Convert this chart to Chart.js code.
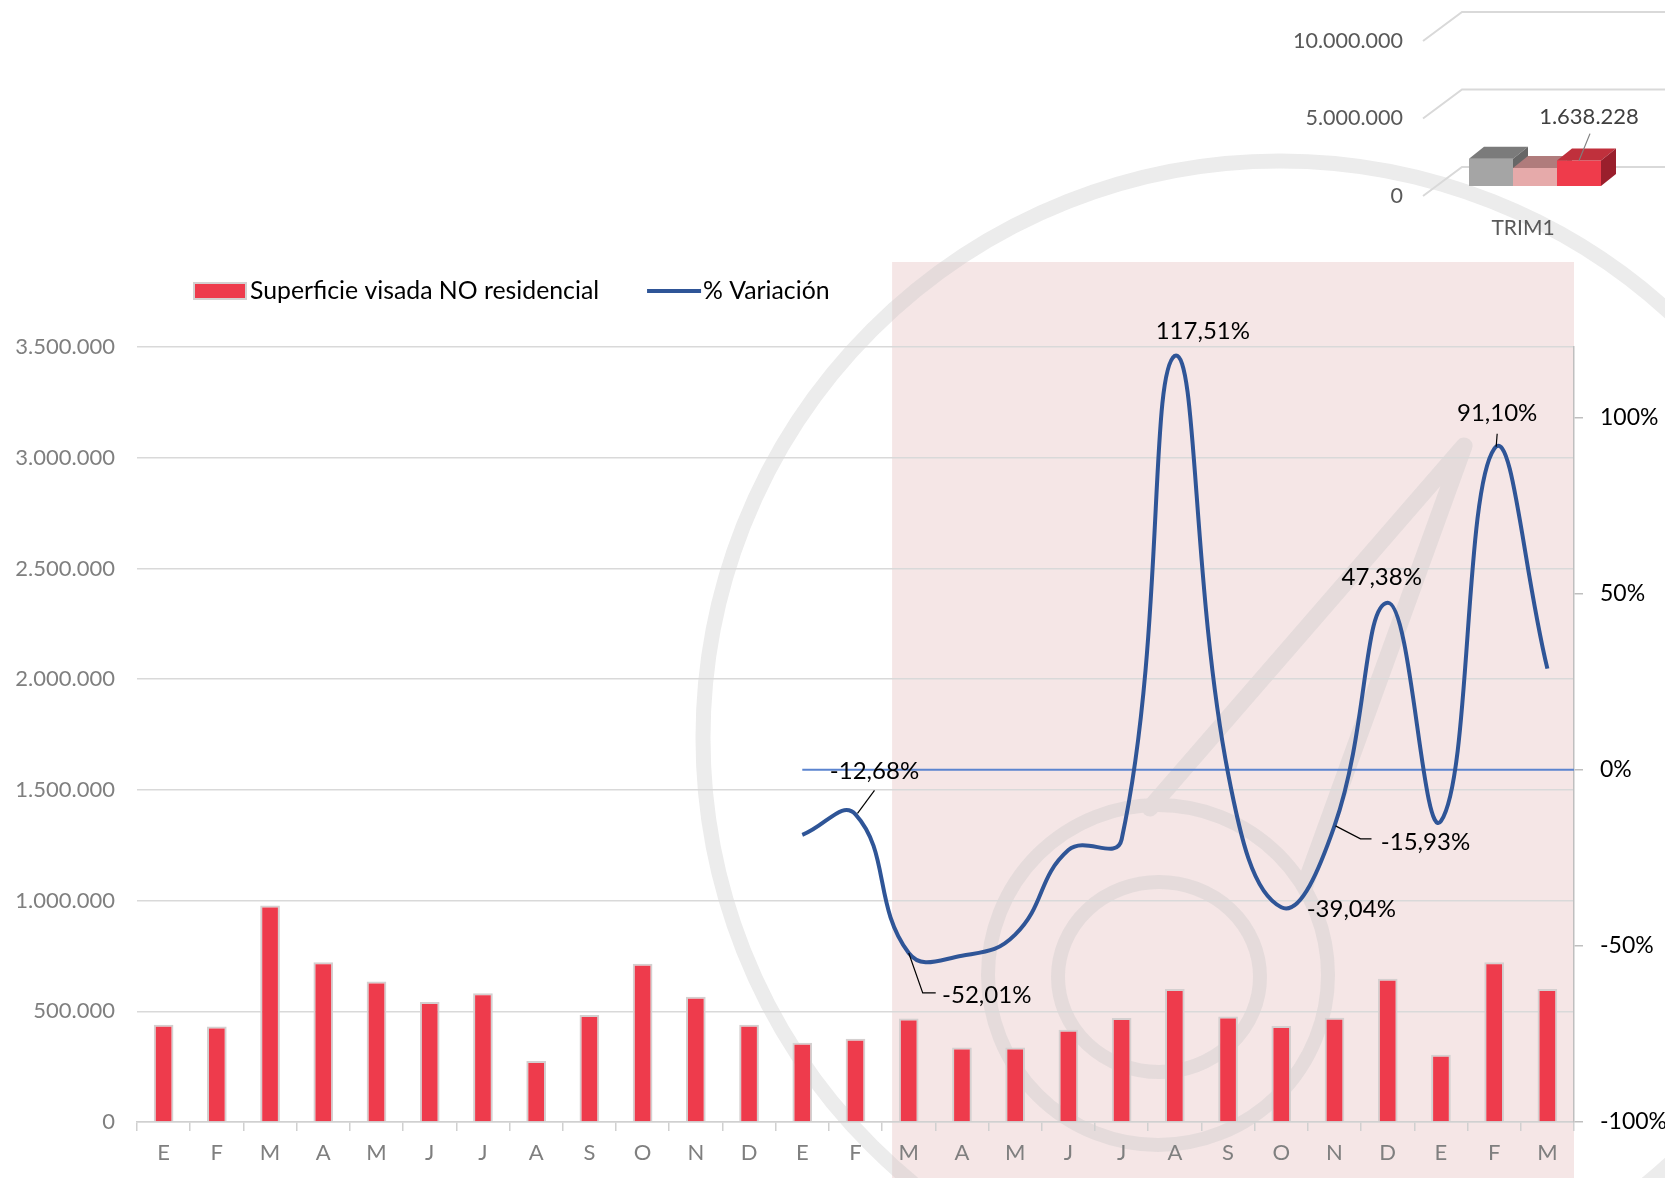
<!DOCTYPE html>
<html lang="es">
<head>
<meta charset="utf-8">
<title>Superficie visada NO residencial</title>
<script src="https://cdn.jsdelivr.net/npm/chart.js@4.4.1/dist/chart.umd.min.js"></script>
<style>
  html, body { margin: 0; padding: 0; background: #fff; }
  #wrap { position: relative; width: 1665px; height: 1178px; overflow: hidden; }
  #main { position: absolute; left: 0; top: 0; }
  #trim { position: absolute; left: 1250px; top: 0; }
</style>
</head>
<body>
<div id="wrap">
  <canvas id="main" width="1665" height="1178"></canvas>
  <canvas id="trim" width="415" height="240"></canvas>
</div>
<script>
// months: one full year, the next one and Jan-Mar of the third
const months = ['E', 'F', 'M', 'A', 'M', 'J', 'J', 'A', 'S', 'O', 'N', 'D',
                'E', 'F', 'M', 'A', 'M', 'J', 'J', 'A', 'S', 'O', 'N', 'D',
                'E', 'F', 'M'];

// m2 visados
const superficie = [439000, 431000, 978000, 721000, 634000, 542000, 581000, 276000, 483000, 715000, 566000, 439000,
                    358000, 376000, 467000, 337000, 337000, 417000, 470000, 601000, 477000, 434000, 471000, 647000,
                    304000, 721000, 601000];

// % variation against the same month a year before (none for the first year)
const variacion = [null, null, null, null, null, null, null, null, null, null, null, null,
                   -18.5, -12.68, -52.01, -52.8, -46.8, -22.8, -19.8, 117.51, -1.0, -39.04, -15.93, 47.38,
                   -14.6, 91.10, 28.7];

// the quarter chart that is cut off in the top right corner
const trimLabels = ['TRIM1'];
const trimValues = [1760000, 1160000, 1638228];

const FONT = 'Lato, "Open Sans", sans-serif';
const trimFront = ['#a5a5a5', '#e6aaaa', '#ef3b4b'];
const trimTop = ['#7b7b7b', '#b07c7c', '#c0303c'];
const trimSide = ['#676767', '#9a6a6a', '#9a1f2c'];

// where the data labels sit relative to their point
const labelSpots = {
    13: { dx: 19, dy: -43, leader: [[2, -1], [19, -24]] },
    14: { dx: 78, dy: 42, leader: [[0, 0], [14, 40], [27, 40]] },
    19: { dx: 28, dy: -25 },
    21: { dx: 70, dy: 2 },
    22: { dx: 91, dy: 16, leader: [[1, 0], [26, 13], [37, 13]] },
    23: { dx: -6, dy: -26 },
    25: { dx: 3, dy: -36, leader: [[2, -2], [3, -15]] }
};

function fmtThousands(v) {
    return Math.round(v).toString().replace(/\B(?=(\d{3})+(?!\d))/g, '.');
}

function fmtPct(v) {
    return v.toFixed(2).replace('.', ',') + '%';
}

// faint logo behind the plot, drawn once on its own canvas so overlaps don't darken
function drawWatermark(ctx) {
    const off = document.createElement('canvas');
    off.width = ctx.canvas.width;
    off.height = ctx.canvas.height;
    const o = off.getContext('2d');
    o.strokeStyle = 'rgb(200,200,200)';
    o.lineCap = 'round';
    o.lineJoin = 'round';
    o.lineWidth = 15;
    o.beginPath(); o.arc(1280, 738, 577, 0, Math.PI * 2); o.stroke();
    o.lineWidth = 14;
    o.beginPath(); o.arc(1158, 975, 170, 0, Math.PI * 2); o.stroke();
    o.beginPath(); o.ellipse(1159, 977, 101, 95, 0, 0, Math.PI * 2); o.stroke();
    o.lineWidth = 17;
    o.beginPath(); o.moveTo(1150, 808); o.lineTo(1464, 446); o.lineTo(1305, 885); o.stroke();
    ctx.save();
    ctx.globalAlpha = 0.35;
    ctx.drawImage(off, 0, 0);
    ctx.restore();
}

// pink panel over the last 13 months + watermark
const backdrop = {
    id: 'backdrop',
    beforeDraw(chart) {
        const { ctx, chartArea, scales: { x } } = chart;
        const left = (x.getPixelForValue(13) + x.getPixelForValue(14)) / 2 + 10;
        const top = chartArea.top - 85;
        ctx.save();
        ctx.fillStyle = '#f5e6e6';
        ctx.fillRect(left, top, chartArea.right - left, chart.height - top);
        ctx.restore();
        drawWatermark(ctx);
    }
};

// thin 0% reference line from the first variation month to the right edge
const zeroLine = {
    id: 'zeroLine',
    beforeDatasetsDraw(chart) {
        const { ctx, chartArea, scales: { x, y1 } } = chart;
        const py = y1.getPixelForValue(0);
        ctx.save();
        ctx.strokeStyle = '#5b84cf';
        ctx.lineWidth = 2;
        ctx.beginPath();
        ctx.moveTo(x.getPixelForValue(12), py);
        ctx.lineTo(chartArea.right, py);
        ctx.stroke();
        ctx.restore();
    }
};

const pointLabels = {
    id: 'pointLabels',
    afterDatasetsDraw(chart) {
        const { ctx } = chart;
        const meta = chart.getDatasetMeta(0);
        ctx.save();
        ctx.font = `24px ${FONT}`;
        ctx.fillStyle = '#000';
        ctx.strokeStyle = '#000';
        ctx.lineWidth = 1.2;
        ctx.textAlign = 'center';
        ctx.textBaseline = 'middle';
        Object.keys(labelSpots).forEach(k => {
            const i = Number(k);
            const pt = meta.data[i];
            const spot = labelSpots[k];
            if (spot.leader) {
                ctx.beginPath();
                spot.leader.forEach(([lx, ly], j) => {
                    if (j === 0) ctx.moveTo(pt.x + lx, pt.y + ly);
                    else ctx.lineTo(pt.x + lx, pt.y + ly);
                });
                ctx.stroke();
            }
            ctx.fillText(fmtPct(variacion[i]), pt.x + spot.dx, pt.y + spot.dy);
        });
        ctx.restore();
    }
};

// legend row drawn by hand so it can sit left of centre like the original
const legendRow = {
    id: 'legendRow',
    afterDraw(chart) {
        const { ctx, chartArea } = chart;
        const line = chart.data.datasets[0];
        const bar = chart.data.datasets[1];
        const y = chartArea.top - 56;
        let x = 194;
        ctx.save();
        ctx.font = `24.8px ${FONT}`;
        ctx.textBaseline = 'middle';
        ctx.textAlign = 'left';
        ctx.fillStyle = bar.backgroundColor;
        ctx.fillRect(x, y - 8, 52, 16);
        ctx.strokeStyle = bar.borderColor;
        ctx.lineWidth = 2;
        ctx.strokeRect(x, y - 8, 52, 16);
        ctx.fillStyle = '#000';
        ctx.fillText(bar.label, x + 56, y);
        x += 56 + ctx.measureText(bar.label).width + 48;
        ctx.strokeStyle = line.borderColor;
        ctx.lineWidth = 4;
        ctx.beginPath();
        ctx.moveTo(x, y);
        ctx.lineTo(x + 54, y);
        ctx.stroke();
        ctx.fillText(line.label, x + 56, y);
        ctx.restore();
    }
};

new Chart(document.getElementById('main'), {
    data: {
        labels: months,
        datasets: [
            {
                type: 'line',
                label: '% Variación',
                data: variacion,
                yAxisID: 'y1',
                borderColor: '#2f5597',
                borderWidth: 4,
                pointRadius: 0,
                tension: 0.45,
                fill: false,
                order: 0
            },
            {
                type: 'bar',
                label: 'Superficie visada NO residencial',
                data: superficie,
                yAxisID: 'y',
                backgroundColor: '#ee3b4c',
                borderColor: '#d4d0d0',
                borderWidth: 2,
                barPercentage: 0.37,
                categoryPercentage: 1,
                order: 1
            }
        ]
    },
    options: {
        responsive: false,
        animation: false,
        layout: { padding: { top: 347, left: 0, right: 0, bottom: 0 } },
        plugins: {
            legend: { display: false },
            tooltip: { enabled: false }
        },
        scales: {
            x: {
                offset: true,
                grid: { offset: true, drawOnChartArea: false, drawTicks: true, tickLength: 9, color: '#d0d0d0', lineWidth: 1.5 },
                border: { display: true, color: '#d0d0d0', width: 1.5 },
                ticks: { color: '#7f7f7f', font: { family: FONT, size: 22 }, padding: 9, maxRotation: 0, autoSkip: false },
                afterFit: s => { s.height = 56; }
            },
            y: {
                position: 'left',
                min: 0,
                max: 3500000,
                ticks: { stepSize: 500000, callback: v => fmtThousands(v), color: '#7f7f7f', font: { family: FONT, size: 22 }, padding: 22 },
                grid: { color: '#d9d9d9', lineWidth: 1.5, drawTicks: false },
                border: { display: false },
                afterFit: s => { s.width = 137; }
            },
            y1: {
                position: 'right',
                min: -100,
                max: 120,
                afterBuildTicks: s => { s.ticks = s.ticks.filter(t => t.value % 50 === 0); },
                ticks: { stepSize: 50, callback: v => v + '%', color: '#000', font: { family: FONT, size: 23 }, padding: 17 },
                grid: { drawOnChartArea: false, drawTicks: true, tickLength: 9, color: '#bfbfbf', lineWidth: 1.5 },
                border: { display: true, color: '#bfbfbf', width: 1.5 },
                afterFit: s => { s.width = 91; }
            }
        }
    },
    plugins: [backdrop, zeroLine, pointLabels, legendRow]
});

// --- small 3D quarter chart, top right ---
const DX = 15, DY = -12;     // bar depth
const SHIFT = [12, -10];     // bars stand a bit behind the front edge

const walls3d = {
    id: 'walls3d',
    beforeDatasetsDraw(chart) {
        const { ctx, chartArea, scales: { y } } = chart;
        ctx.save();
        ctx.strokeStyle = '#d9d9d9';
        ctx.lineWidth = 2;
        y.ticks.forEach(t => {
            const py = y.getPixelForValue(t.value);
            ctx.beginPath();
            ctx.moveTo(chartArea.left, py);
            ctx.lineTo(chartArea.left + 39, py - 29);
            ctx.lineTo(chart.width, py - 29);
            ctx.stroke();
        });
        ctx.restore();
    },
    // skip the normal pass, bars are drawn left to right below so each covers its neighbour's side
    beforeDatasetDraw() {
        return false;
    },
    afterDatasetsDraw(chart) {
        const { ctx } = chart;
        ctx.save();
        ctx.translate(SHIFT[0], SHIFT[1]);
        trimValues.forEach((v, i) => {
            chart.getDatasetMeta(i).data.forEach(bar => {
                bar.draw(ctx);
                const x1 = bar.x - bar.width / 2, x2 = bar.x + bar.width / 2;
                ctx.fillStyle = trimTop[i];
                ctx.beginPath();
                ctx.moveTo(x1, bar.y);
                ctx.lineTo(x1 + DX, bar.y + DY);
                ctx.lineTo(x2 + DX, bar.y + DY);
                ctx.lineTo(x2, bar.y);
                ctx.closePath();
                ctx.fill();
                ctx.fillStyle = trimSide[i];
                ctx.beginPath();
                ctx.moveTo(x2, bar.y);
                ctx.lineTo(x2 + DX, bar.y + DY);
                ctx.lineTo(x2 + DX, bar.base + DY);
                ctx.lineTo(x2, bar.base);
                ctx.closePath();
                ctx.fill();
            });
        });

        // only the last series carries its value
        const last = trimValues.length - 1;
        const bar = chart.getDatasetMeta(last).data[0];
        ctx.strokeStyle = '#7f7f7f';
        ctx.lineWidth = 1.2;
        ctx.beginPath();
        ctx.moveTo(bar.x + 11, bar.y - 27);
        ctx.lineTo(bar.x, bar.y);
        ctx.stroke();
        ctx.font = `22px ${FONT}`;
        ctx.fillStyle = '#404040';
        ctx.textAlign = 'center';
        ctx.textBaseline = 'middle';
        ctx.fillText(fmtThousands(trimValues[last]), bar.x + 10, bar.y - 44);
        ctx.restore();
    }
};

new Chart(document.getElementById('trim'), {
    type: 'bar',
    data: {
        labels: trimLabels,
        datasets: trimValues.map((v, i) => ({
            data: [v],
            backgroundColor: trimFront[i],
            borderWidth: 0
        }))
    },
    options: {
        responsive: false,
        animation: false,
        layout: { padding: { top: 41, right: 42, left: 0, bottom: 0 } },
        datasets: { bar: { categoryPercentage: 0.66, barPercentage: 1 } },
        plugins: {
            legend: { display: false },
            tooltip: { enabled: false }
        },
        scales: {
            x: {
                grid: { display: false },
                border: { display: false },
                ticks: { color: '#595959', font: { family: FONT, size: 21 }, padding: 12 },
                afterFit: s => { s.height = 44; }
            },
            y: {
                min: 0,
                max: 10000000,
                ticks: { stepSize: 5000000, callback: v => fmtThousands(v), color: '#595959', font: { family: FONT, size: 21.5 }, padding: 12 },
                grid: { display: false },
                border: { display: false },
                afterFit: s => { s.width = 173; }
            }
        }
    },
    plugins: [walls3d]
});
</script>
</body>
</html>
